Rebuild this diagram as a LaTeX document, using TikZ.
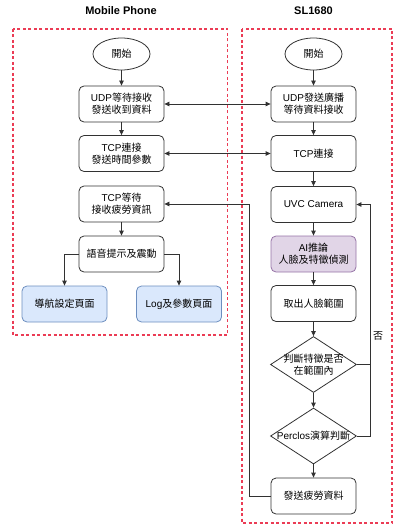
\documentclass[tikz,border=0pt]{standalone}
\usepackage{fontspec}
\setmainfont{Liberation Sans}
\newfontfamily\cjk{Noto Sans CJK TC}
\usetikzlibrary{shapes.geometric,arrows.meta}
\definecolor{dashred}{RGB}{235,60,85}
\definecolor{bluefill}{HTML}{DAE8FC}
\definecolor{blueline}{HTML}{6C8EBF}
\definecolor{purpfill}{HTML}{E1D5E7}
\definecolor{purpline}{HTML}{9673A6}
\definecolor{ink}{RGB}{50,50,50}
\tikzset{
  proc/.style={draw=ink, line width=0.8pt, rounded corners=5pt, minimum width=85pt, minimum height=36pt, inner sep=0pt, align=center, font=\fontsize{10}{12}\selectfont},
  term/.style={draw=ink, line width=0.8pt, ellipse, minimum width=57pt, minimum height=32pt, inner sep=0pt, font=\fontsize{10}{12}\selectfont},
  dia/.style={draw=ink, line width=0.8pt, diamond, minimum width=86pt, minimum height=56pt, inner sep=0pt},
  diatext/.style={align=center, inner sep=0pt, font=\fontsize{10}{12}\selectfont},
  bluebox/.style={proc, fill=bluefill, draw=blueline},
  purpbox/.style={proc, fill=purpfill, draw=purpline},
  lane/.style={draw=dashred, line width=1.3pt, dash pattern=on 3pt off 2.5pt},
  title/.style={font=\fontsize{11}{13}\selectfont\bfseries},
  conn/.style={draw=ink, line width=0.8pt, -{Triangle[length=5pt,width=4.5pt]}},
  biconn/.style={draw=ink, line width=0.8pt, {Triangle[length=5pt,width=4.5pt]}-{Triangle[length=5pt,width=4.5pt]}},
}
\begin{document}
\begin{tikzpicture}[x=1pt,y=-1pt]
\useasboundingbox (0,0) rectangle (405,532);
% lanes
\draw[lane] (13,29) rectangle (227.5,335);
\draw[lane] (242,29) rectangle (392,523);
\node[title] (tl) at (121,11) {Mobile Phone};
\node[title] (tr) at (313.5,11) {SL1680};
% left column
\node[term] (ls) at (121.5,54) {\cjk 開始};
\node[proc] (l1) at (121.5,104) {UDP{\cjk 等待接收}\\{\cjk 發送收到資料}};
\node[proc] (l2) at (121.5,153.5) {TCP{\cjk 連接}\\{\cjk 發送時間參數}};
\node[proc] (l3) at (121.5,204) {TCP{\cjk 等待}\\{\cjk 接收疲勞資訊}};
\node[proc] (l4) at (121.5,254) {\cjk 語音提示及震動};
\node[bluebox] (l5) at (64.5,304) {\cjk 導航設定頁面};
\node[bluebox] (l6) at (179,304) {Log{\cjk 及參數頁面}};
% right column
\node[term] (rs) at (313.5,54) {\cjk 開始};
\node[proc] (r1) at (313.5,104) {UDP{\cjk 發送廣播}\\{\cjk 等待資料接收}};
\node[proc] (r2) at (313.5,153.5) {TCP{\cjk 連接}};
\node[proc] (r3) at (313.5,204.5) {UVC Camera};
\node[purpbox] (r4) at (313.5,254) {AI{\cjk 推論}\\{\cjk 人臉及特徵偵測}};
\node[proc] (r5) at (313.5,303.5) {\cjk 取出人臉範圍};
\node[dia] (d1) at (313.5,364.5) {};
\node[diatext] (d1t) at (d1) {\cjk 判斷特徵是否\\\cjk 在範圍內};
\node[dia] (d2) at (313.5,436) {};
\node[diatext] (d2t) at (d2) {Perclos{\cjk 演算判斷}};
\node[proc] (r6) at (313.5,496) {\cjk 發送疲勞資料};
\coordinate (loopx) at (370,0);
\coordinate (backx) at (249,0);
% left arrows
\draw[conn] (ls) -- (l1);
\draw[conn] (l1) -- (l2);
\draw[conn] (l3) -- (l4);
\draw[conn] (l4.west) -| (l5.north);
\draw[conn] (l4.east) -| (l6.north);
% right arrows
\draw[conn] (rs) -- (r1);
\draw[conn] (r1) -- (r2);
\draw[conn] (r2) -- (r3);
\draw[conn] (r3) -- (r4);
\draw[conn] (r4) -- (r5);
\draw[conn] (r5) -- (d1.north);
\draw[conn] (d1.south) -- (d2.north);
\draw[conn] (d2.south) -- (r6);
% cross lane
\draw[biconn] (l1.east) -- (r1.west);
\draw[biconn] (l2.east) -- (r2.west);
% loops
\draw[conn] (d1.east) -- (d1.east -| loopx) -- (r3.east -| loopx) -- (r3.east);
\draw[draw=ink, line width=0.8pt] (d2.east) -- (d2.east -| loopx) -- (d1.east -| loopx);
\node[font=\fontsize{10}{12}\selectfont\cjk] (no) at (378,336) {否};
\draw[conn] (r6.west) -- (r6.west -| backx) -- (l3.east -| backx) -- (l3.east);
\end{tikzpicture}
\end{document}
